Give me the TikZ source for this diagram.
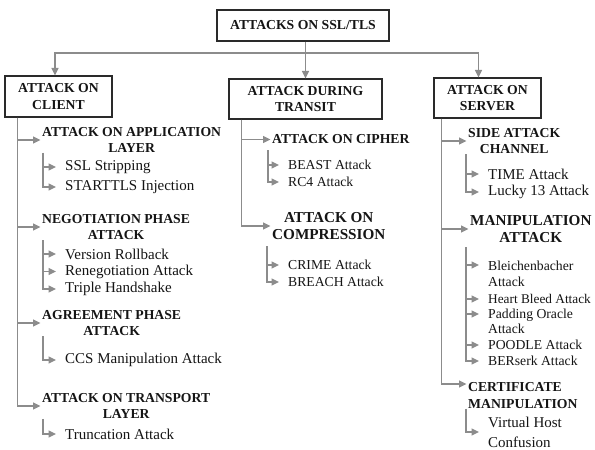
\documentclass[tikz,border=0pt]{standalone}
\usepackage{fontspec}
\setmainfont{Liberation Serif}
\usetikzlibrary{arrows.meta}
\definecolor{conn}{HTML}{8C8C8C}
\definecolor{boxc}{HTML}{2A2A2A}
\definecolor{txt}{HTML}{151515}
\newcommand{\fsB}{\fontsize{13.7}{16.5}\selectfont\bfseries}
\newcommand{\fsBL}{\fontsize{15.2}{17.5}\selectfont\bfseries}
\newcommand{\fsR}{\fontsize{15}{18}\selectfont}
\newcommand{\fsS}{\fontsize{13.7}{16}\selectfont}
\tikzset{
  box/.style={draw=boxc, line width=1.2pt, align=center, font=\fsB, text=txt, inner sep=0pt},
  arr/.style={draw=conn, line width=1.4pt, -{Triangle[length=7.5pt,width=7pt]}},
  head/.style={font=\fsB, text=txt, align=center, anchor=west, inner xsep=1.5pt, inner ysep=0pt},
  item/.style={font=\fsR, text=txt, align=left, anchor=west, inner xsep=9pt, inner ysep=0pt},
  sitem/.style={item, font=\fsS}
}
\begin{document}
\begin{tikzpicture}[x=1pt,y=-1pt]
\useasboundingbox (0,0) rectangle (595,450);
\fill[white] (0,0) rectangle (595,450);

% top level boxes
\node[box, minimum width=172pt, minimum height=31pt] (top) at (303,25.5) {ATTACKS ON SSL/TLS};
\node[box, minimum width=107pt, minimum height=41pt] (client) at (58.5,96.5) {ATTACK ON\\CLIENT};
\node[box, minimum width=153pt, minimum height=40pt] (transit) at (305.5,99) {ATTACK DURING\\TRANSIT};
\node[box, minimum width=107pt, minimum height=40pt] (server) at (487.5,98) {ATTACK ON\\SERVER};

\coordinate (bus) at (305.5,53);
\draw[arr] (top.south -| transit.north) -- (transit.north);
\draw[arr] (bus) -| ([xshift=-3.5pt]client.north);
\draw[arr] (bus) -| ([xshift=-9pt]server.north);

% client column
\node[head] (c1) at (40.5,140) {ATTACK ON APPLICATION\\LAYER};
\node[head] (c2) at (40.5,227) {NEGOTIATION PHASE\\ATTACK};
\node[head] (c3) at (40.5,323) {AGREEMENT PHASE\\ATTACK};
\node[head] (c4) at (40.5,406) {ATTACK ON TRANSPORT\\LAYER};
\foreach \h in {c1,c2,c3,c4}
  \draw[arr] ([xshift=13pt]client.south west) |- (\h.west);

\node[item] (c1a) at (56,167) {SSL Stripping};
\node[item] (c1b) at (56,187) {STARTTLS Injection};
\node[item] (c2a) at (56,254) {Version Rollback};
\node[item] (c2b) at (56,271.5) {Renegotiation Attack};
\node[item] (c2c) at (56,289) {Triple Handshake};
\node[item] (c3a) at (56,360) {CCS Manipulation Attack};
\node[item] (c4a) at (56,434) {Truncation Attack};
\foreach \i in {c1a,c1b}
  \draw[arr] ([xshift=2.5pt]c1.south west) |- (\i.west);
\foreach \i in {c2a,c2b,c2c}
  \draw[arr] ([xshift=2.5pt]c2.south west) |- (\i.west);
\draw[arr] ([xshift=2.5pt]c3.south west) |- (c3a.west);
\draw[arr] ([xshift=2.5pt]c4.south west) |- (c4a.west);

% transit column
\node[head] (m1) at (270.5,139.5) {ATTACK ON CIPHER};
\node[head, font=\fsBL] (m2) at (270.5,226) {ATTACK ON\\COMPRESSION};
\foreach \h in {m1,m2}
  \draw[arr] ([xshift=13pt]transit.south west) |- (\h.west);
\node[sitem] (m1a) at (279,165) {BEAST Attack};
\node[sitem] (m1b) at (279,182) {RC4 Attack};
\node[sitem] (m2a) at (279,265) {CRIME Attack};
\node[sitem] (m2b) at (279,282) {BREACH Attack};
\foreach \i in {m1a,m1b}
  \draw[arr] ([xshift=-2.5pt,yshift=-6pt]m1.south west) |- (\i.west);
\foreach \i in {m2a,m2b}
  \draw[arr] ([xshift=-3.5pt,yshift=-6pt]m2.south west) |- (\i.west);

% server column
\node[head] (r1) at (466.5,141) {SIDE ATTACK\\CHANNEL};
\node[head, font=\fsBL] (r2) at (468.5,229) {MANIPULATION\\ATTACK};
\node[head, align=left] (r3) at (466.5,395.5) {CERTIFICATE\\MANIPULATION};
\draw[arr] ([xshift=8pt]server.south west) |- (r1.west);
\draw[arr] ([xshift=8pt]server.south west) |- (r2.west);
\draw[arr] ([xshift=8pt]server.south west) |- ([yshift=11.5pt]r3.west);

\node[item] (r1a) at (479,174) {TIME Attack};
\node[item] (r1b) at (479,192) {Lucky 13 Attack};
\node[sitem] (r2a) at (479,273.5) {Bleichenbacher\\Attack};
\node[sitem, font=\fontsize{13.3}{16}\selectfont] (r2b) at (479,299) {Heart Bleed Attack};
\node[sitem, font=\fontsize{13.7}{15}\selectfont] (r2c) at (479,321.5) {Padding Oracle\\Attack};
\node[sitem] (r2d) at (479,345) {POODLE Attack};
\node[sitem] (r2e) at (479,361) {BERserk Attack};
\node[item, font=\fontsize{15}{20}\selectfont] (r3a) at (479,432) {Virtual Host\\Confusion};

\foreach \i in {r1a,r1b}
  \draw[arr] ([xshift=-0.5pt]r1.south west) |- (\i.west);
\draw[arr] ([xshift=-2.5pt,yshift=-4pt]r2.south west) |- ([yshift=8.5pt]r2a.west);
\draw[arr] ([xshift=-2.5pt,yshift=-4pt]r2.south west) |- (r2b.west);
\draw[arr] ([xshift=-2.5pt,yshift=-4pt]r2.south west) |- ([yshift=7.5pt]r2c.west);
\draw[arr] ([xshift=-2.5pt,yshift=-4pt]r2.south west) |- (r2d.west);
\draw[arr] ([xshift=-2.5pt,yshift=-4pt]r2.south west) |- (r2e.west);
\draw[arr] ([xshift=-0.5pt]r3.south west) |- (r3a.west);
\end{tikzpicture}
\end{document}
